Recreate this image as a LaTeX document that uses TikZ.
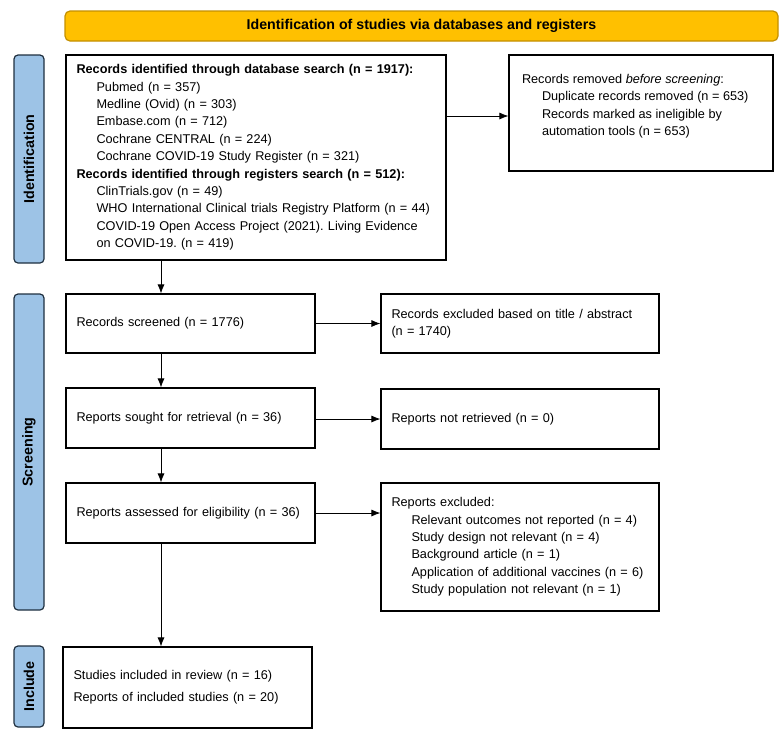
\documentclass[tikz,border=0pt]{standalone}
\usepackage{fontspec}
\setmainfont{Liberation Sans}
\usetikzlibrary{arrows.meta, positioning, calc}
\definecolor{bannerfill}{HTML}{FFC000}
\definecolor{bannerline}{HTML}{C49000}
\definecolor{phasefill}{HTML}{9DC3E6}
\definecolor{phaseline}{HTML}{1F2F3F}
\newcommand{\indt}{\hspace*{20pt}}
\frenchspacing

\begin{document}
\begin{tikzpicture}[x=1pt, y=-1pt,
    >={Latex[length=9pt, width=7pt]},
    box/.style={draw, line width=1.2pt, align=left, inner sep=0pt, font=\fontsize{12.7}{17.4}\selectfont},
    lbox/.style={box, minimum width=249pt, text width=228pt},
    rbox/.style={box, minimum width=278pt, text width=257pt},
    phase/.style={draw=phaseline, fill=phasefill, line width=1.2pt, rounded corners=4pt, inner sep=0pt,
      rotate=90, minimum height=30pt, font=\fontsize{14.3}{16}\selectfont\bfseries},
    flow/.style={->, line width=0.8pt}]
  \useasboundingbox (0,0) rectangle (783,740);
  % banner and phase labels
  \node[draw=bannerline, fill=bannerfill, line width=1.2pt, rounded corners=5pt, minimum width=713pt,
    minimum height=30pt, font=\fontsize{14.2}{16}\selectfont\bfseries] (banner) at (421.5,26)
    {Identification of studies via databases and registers};
  \foreach \nm/\y/\h/\t in {idph/159/208/Identification, scph/452/316/Screening, inph/686.5/81/Include} {
    \node[phase, minimum width=\h pt] (\nm) at (29,\y) {\t};
  }
  % identification
  \node[box, minimum width=380pt, text width=359pt, minimum height=205pt] (ids) at (256,157.5) {%
    \textbf{Records identified through database search (n = 1917):}\\
    \indt Pubmed (n = 357)\\
    \indt Medline (Ovid) (n = 303)\\
    \indt Embase.com (n = 712)\\
    \indt Cochrane CENTRAL (n = 224)\\
    \indt Cochrane COVID-19 Study Register (n = 321)\\
    \textbf{Records identified through registers search (n = 512):}\\
    \indt ClinTrials.gov (n = 49)\\
    \indt WHO International Clinical trials Registry Platform (n = 44)\\
    \indt COVID-19 Open Access Project (2021). Living Evidence\\
    \indt on COVID-19. (n = 419)};
  \node[box, minimum width=264pt, minimum height=116pt] (rem) at (641,113) {};
  \node[box, anchor=north west, draw=none] (remtxt) at ([xshift=13pt, yshift=-19pt]rem.north west) {%
    Records removed \textit{before screening}:\\
    \indt Duplicate records removed (n = 653)\\
    \indt Records marked as ineligible by\\
    \indt automation tools (n = 653)};
  % screening
  \node[lbox, minimum height=59pt] (scr) at (190.5,323.5) {Records screened (n = 1776)};
  \node[rbox, minimum height=59pt] (excl) at (520,323.5)
    {Records excluded based on title / abstract\\(n = 1740)};
  \node[lbox, minimum height=60pt] (sought) at (190.5,418) {Reports sought for retrieval (n = 36)};
  \node[rbox, minimum height=60pt] (notret) at (520,419) {Reports not retrieved (n = 0)};
  \node[lbox, minimum height=60pt] (assess) at (190.5,513) {Reports assessed for eligibility (n = 36)};
  \node[rbox, minimum height=128pt] (repexcl) at (520,547) {%
    Reports excluded:\\
    \indt Relevant outcomes not reported (n = 4)\\
    \indt Study design not relevant (n = 4)\\
    \indt Background article (n = 1)\\
    \indt Application of additional vaccines (n = 6)\\
    \indt Study population not relevant (n = 1)};
  % included
  \node[lbox, minimum height=81pt] (incl) at (187.5,687.5)
    {Studies included in review (n = 16)\\[4.5pt]Reports of included studies (n = 20)};
  % connectors
  \coordinate (spine) at (161,0);
  \draw[flow] (ids.south -| spine) -- (scr.north -| spine);
  \draw[flow] (scr.south -| spine) -- (sought.north -| spine);
  \draw[flow] (sought.south -| spine) -- (assess.north -| spine);
  \draw[flow] (assess.south -| spine) -- (incl.north -| spine);
  \draw[flow] ([yshift=-3pt]ids.east |- rem.west) -- ([yshift=-3pt]rem.west);
  \draw[flow] (scr) -- (excl);
  \draw[flow] (sought.east |- notret.west) -- (notret.west);
  \draw[flow] (assess) -- (assess -| repexcl.west);
\end{tikzpicture}
\end{document}
